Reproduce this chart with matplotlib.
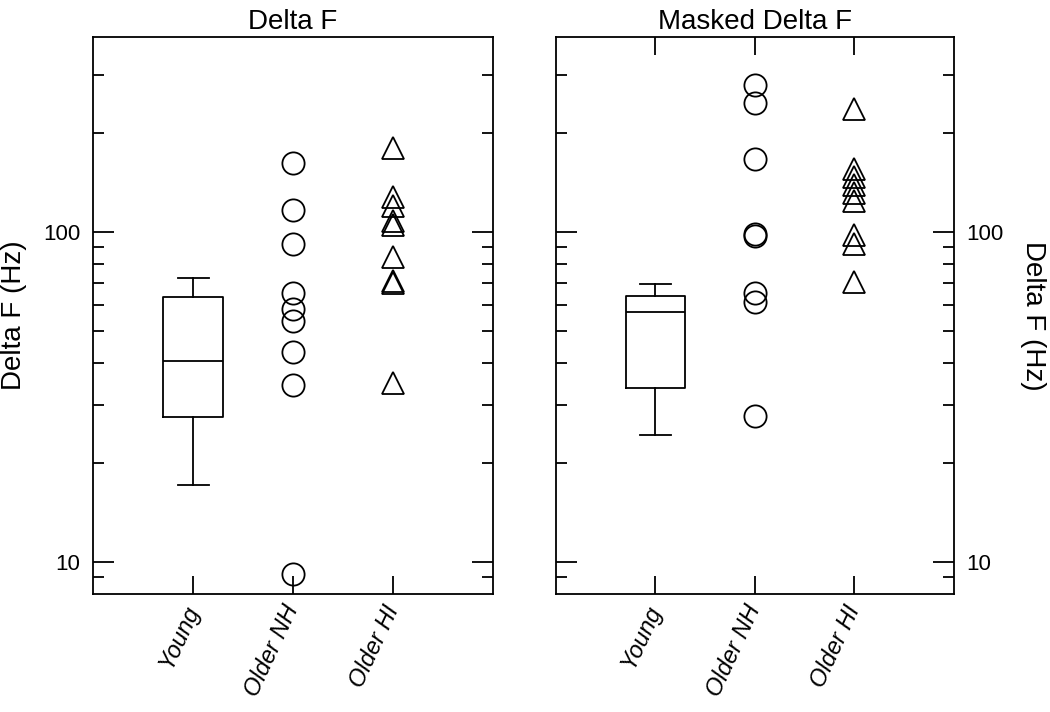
import numpy as np
import matplotlib.pyplot as plt

plt.rcParams['font.family'] = ['Liberation Sans', 'DejaVu Sans']

groups = ['Young', 'Older NH', 'Older HI']

# Young group box stats: whisker low, q1, median, q3, whisker high
young_df = [17.1, 27.5, 40.6, 63.4, 72.5]
young_mdf = [24.3, 33.8, 57.2, 63.8, 69.6]

# individual listeners
older_nh_df = [162, 117, 92, 65.2, 58.5, 53.8, 43.4, 34.4, 9.2]
older_hi_df = [180, 128, 120, 108, 105, 84, 71, 70, 35]

older_nh_mdf = [279, 246, 166, 98.5, 97, 65.5, 61.5, 27.7]
older_hi_mdf = [236, 155, 147, 139, 131, 124, 98, 92, 70.5]

titles = ['Delta F', 'Masked Delta F']
ylab = 'Delta F (Hz)'

fig = plt.figure(figsize=(10.5, 7.12), dpi=100)
ax1 = fig.add_axes([0.0886, 0.1657, 0.381, 0.7823])
ax2 = fig.add_axes([0.5295, 0.1657, 0.379, 0.7823])


def panel(ax, box, nh, hi, title, side):
    st = dict(whislo=box[0], q1=box[1], med=box[2], q3=box[3], whishi=box[4], fliers=[])
    lp = dict(color='black', linewidth=1.3)
    ax.bxp([st], positions=[1], widths=0.6, capwidths=0.31, showfliers=False,
           boxprops=lp, medianprops=lp, whiskerprops=lp, capprops=lp)
    ax.plot([2] * len(nh), nh, 'o', ms=16, mfc='none', mec='black', mew=1.3)
    ax.plot([3] * len(hi), hi, '^', ms=16, mfc='none', mec='black', mew=1.3)

    ax.set_yscale('log')
    ax.set_ylim(8, 390)
    ax.set_xlim(0, 4)
    ax.set_yticks([10, 100])
    ax.set_yticklabels(['10', '100'])
    ax.set_yticks([9, 20, 30, 40, 50, 60, 70, 80, 90, 200, 300], minor=True)
    ax.set_yticklabels([], minor=True)
    ax.set_xticks([1, 2, 3])
    ax.set_xticklabels(groups, rotation=65, ha='right', va='center',
                       rotation_mode='anchor', style='italic', fontsize=17)
    ax.tick_params(axis='x', direction='in', length=13, width=1.3, pad=9)
    ax.tick_params(axis='y', which='major', direction='in', length=15, width=1.3,
                   labelsize=16, pad=9, left=True, right=True,
                   labelleft=(side == 'left'), labelright=(side == 'right'))
    ax.tick_params(axis='y', which='minor', direction='in', length=8, width=1.3,
                   left=True, right=True)
    for s in ax.spines.values():
        s.set_linewidth(1.3)
    ax.set_title(title, fontsize=20, pad=6)
    if side == 'left':
        ax.set_ylabel(ylab, fontsize=20, labelpad=12)
    else:
        ax.yaxis.set_label_position('right')
        ax.set_ylabel(ylab, fontsize=20, rotation=270, va='bottom', labelpad=12)
        ax.tick_params(axis='x', top=True)


panel(ax1, young_df, older_nh_df, older_hi_df, titles[0], 'left')
panel(ax2, young_mdf, older_nh_mdf, older_hi_mdf, titles[1], 'right')

fig.savefig('out.png', dpi=100)
